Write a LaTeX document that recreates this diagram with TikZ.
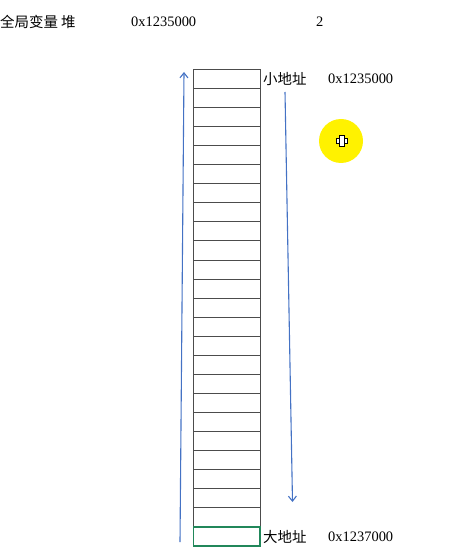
\documentclass[tikz,border=0pt]{standalone}
\usepackage{fontspec}
\setmainfont{Liberation Serif}
\newfontfamily\cjk{Noto Sans CJK SC}
\usetikzlibrary{arrows.meta}
\definecolor{arrowblue}{RGB}{68,114,196}
\definecolor{xlgreen}{RGB}{33,135,90}
\tikzset{
  cell/.style={draw=black!70, line width=0.9bp},
  lastcell/.style={draw=xlgreen, line width=1.8bp},
  flow/.style={draw=arrowblue, line width=1.1bp, -{Straight Barb[length=5bp,width=8bp]}},
  txt/.style={anchor=west, inner sep=0pt, font=\fontsize{14.5}{16}\selectfont}
}
\begin{document}
\begin{tikzpicture}[x=1bp, y=-1bp]
    \useasboundingbox (0,0) rectangle (450,554);

    % header line
    \node[txt] (kind) at (0,22) {\cjk 全局变量 堆};
    \node[txt] (addr) at (131,22) {0x1235000};
    \node[txt] (num) at (316,22) {2};

    % memory cells
    \foreach \i in {0,...,23}
        \draw[cell] (193.5,{69.3+19.07*\i}) rectangle ++(66.5,19.07);
    \draw[lastcell] (193.5,{69.3+19.07*24}) rectangle ++(66.5,19.07);

    % labels
    \node[txt] (low) at (263,79) {\cjk 小地址};
    \node[txt] (lowaddr) at (328,79) {0x1235000};
    \node[txt] (high) at (263,537) {\cjk 大地址};
    \node[txt] (highaddr) at (328,537) {0x1237000};

    % arrows
    \coordinate (upstart) at (180,542);
    \coordinate (upend) at (184,72);
    \coordinate (downstart) at (285,92);
    \coordinate (downend) at (292.5,502);
    \draw[flow] (upstart) -- (upend);
    \draw[flow] (downstart) -- (downend);

    % pointer highlight
    \fill[yellow] (341,141) circle (22);
    \node[draw=black, fill=white, line width=1bp, inner sep=0pt,
          minimum width=11, minimum height=5] (crossh) at (342,141) {};
    \node[draw=black, fill=white, line width=1bp, inner sep=0pt,
          minimum width=5, minimum height=11] (crossv) at (342,141) {};
    \fill[white] (340,139) rectangle (344,143);
\end{tikzpicture}
\end{document}
